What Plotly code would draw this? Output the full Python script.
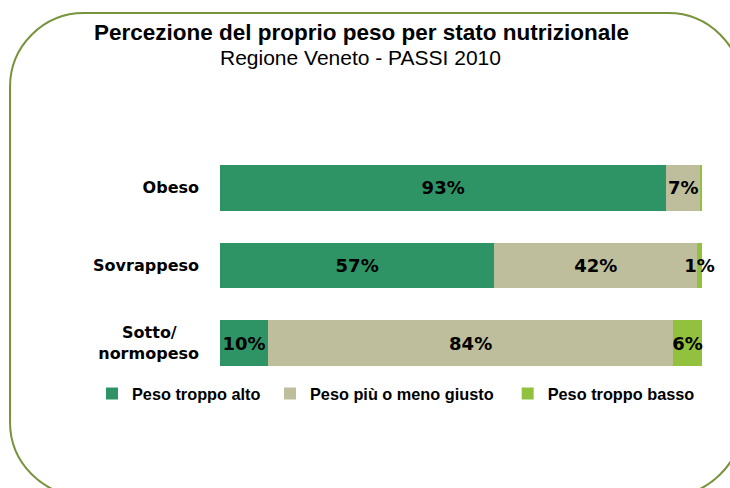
import plotly.graph_objects as go

categories = ["Obeso", "Sovrappeso", "Sotto/\u00a0\u00a0\u00a0\u00a0<br>normopeso"]
series_names = ["Peso troppo alto", "Peso più o meno giusto", "Peso troppo basso"]
alto = [92.6, 56.9, 10.0]
giusto = [7.0, 42.1, 84.0]
basso = [0.4, 1.0, 6.0]
colors = ["#2E9466", "#BEBE9C", "#92C13E"]
legend_pad = ["\u00a0", "\u00a0\u00a0", ""]

title = "Percezione del proprio peso per stato nutrizionale"
subtitle = "Regione Veneto - PASSI 2010"

W, H = 730, 488
ML, MR, MT, MB = 220, 28, 149, 106
PW, PH = W - ML - MR, H - MT - MB


def px(x):
    return (x - ML) / PW


def py(y):
    return (H - MB - y) / PH


fig = go.Figure()
for name, vals, col, pad in zip(series_names, [alto, giusto, basso], colors, legend_pad):
    labels = [f"{round(v)}%" if v >= 1 else "" for v in vals]
    fig.add_trace(go.Bar(
        y=categories, x=vals, name=f"<b>{name}</b>{pad}", orientation="h",
        marker=dict(color=col, line=dict(width=0)),
        text=labels, textposition="inside", insidetextanchor="middle",
        constraintext="none", textangle=0, cliponaxis=False,
        textfont=dict(family="DejaVu Sans", size=18, color="black", weight="bold"),
        hoverinfo="skip",
    ))

# rounded frame
L, R, T, B, r = 10, 742, 13, 496, 74
k = 0.5523 * r
pts = [
    ("M", [(L + r, T)]),
    ("L", [(R - r, T)]),
    ("C", [(R - r + k, T), (R, T + r - k), (R, T + r)]),
    ("L", [(R, B - r)]),
    ("C", [(R, B - r + k), (R - r + k, B), (R - r, B)]),
    ("L", [(L + r, B)]),
    ("C", [(L + r - k, B), (L, B - r + k), (L, B - r)]),
    ("L", [(L, T + r)]),
    ("C", [(L, T + r - k), (L + r - k, T), (L + r, T)]),
]
path = " ".join(c + " " + " ".join(f"{px(x):.5f},{py(y):.5f}" for x, y in p) for c, p in pts) + " Z"
fig.add_shape(type="path", path=path, xref="paper", yref="paper",
              line=dict(color="#77933C", width=2), layer="below")

fig.add_annotation(text=f"<b>{title}</b>", xref="paper", yref="paper",
                   x=px(361), y=py(32), showarrow=False, xanchor="center", yanchor="middle",
                   font=dict(family="Liberation Sans", size=22.5, color="black"))
fig.add_annotation(text=subtitle, xref="paper", yref="paper",
                   x=px(360), y=py(57), showarrow=False, xanchor="center", yanchor="middle",
                   font=dict(family="Liberation Sans", size=21, color="black"))

fig.update_layout(
    width=W, height=H,
    margin=dict(l=ML, r=MR, t=MT, b=MB, autoexpand=False),
    barmode="stack", bargap=0.41,
    plot_bgcolor="white", paper_bgcolor="white",
    showlegend=True,
    legend=dict(orientation="h", x=px(92), y=py(394), xanchor="left", yanchor="middle",
                font=dict(family="Liberation Sans", size=16.3, color="black"),
                traceorder="normal", bgcolor="rgba(0,0,0,0)"),
    xaxis=dict(range=[0, 100], visible=False, fixedrange=True),
    yaxis=dict(autorange="reversed", showgrid=False, showline=False, ticks="",
               ticklabelstandoff=20,
               tickfont=dict(family="DejaVu Sans", size=16, color="black", weight="bold")),
)

fig.write_html("out.html")
